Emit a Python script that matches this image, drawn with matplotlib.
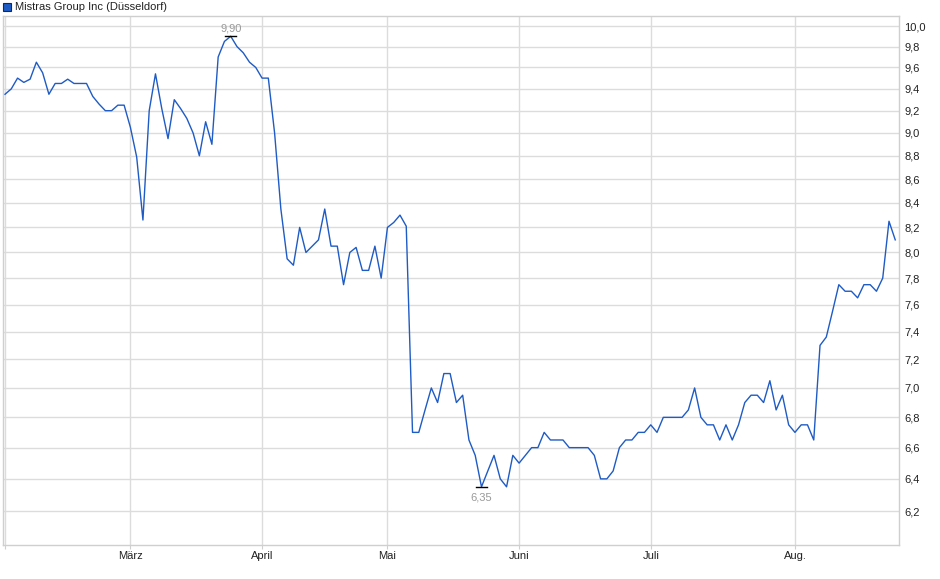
import numpy as np
import pandas as pd
import matplotlib
matplotlib.use("Agg")
import matplotlib.pyplot as plt
from matplotlib.patches import Rectangle

# trading days (Düsseldorf), Feb - Aug
holidays = ["2025-04-18", "2025-04-21", "2025-05-01"]
dates = pd.bdate_range("2025-02-03", "2025-08-25")
dates = dates[~dates.isin(pd.to_datetime(holidays))]

prices = [
    9.35, 9.40, 9.50, 9.46, 9.49, 9.65, 9.55, 9.35, 9.45, 9.45,
    9.49, 9.45, 9.45, 9.45, 9.33, 9.26, 9.20, 9.20, 9.25, 9.25,
    9.05, 8.79, 8.26, 9.20, 9.54, 9.22, 8.95, 9.30, 9.22, 9.13,
    9.00, 8.80, 9.10, 8.90, 9.70, 9.85, 9.90, 9.80, 9.74, 9.65,
    9.60, 9.50, 9.50, 9.00, 8.35, 7.95, 7.90, 8.20, 8.00, 8.05,
    8.10, 8.35, 8.05, 8.05, 7.75, 8.00, 8.04, 7.86, 7.86, 8.05,
    7.80, 8.20, 8.24, 8.30, 8.21, 6.70, 6.70, 6.85, 7.00, 6.90,
    7.10, 7.10, 6.90, 6.95, 6.65, 6.55, 6.35, 6.45, 6.55, 6.40,
    6.35, 6.55, 6.50, 6.55, 6.60, 6.60, 6.70, 6.65, 6.65, 6.65,
    6.60, 6.60, 6.60, 6.60, 6.55, 6.40, 6.40, 6.45, 6.60, 6.65,
    6.65, 6.70, 6.70, 6.75, 6.70, 6.80, 6.80, 6.80, 6.80, 6.85,
    7.00, 6.80, 6.75, 6.75, 6.65, 6.75, 6.65, 6.75, 6.90, 6.95,
    6.95, 6.90, 7.05, 6.85, 6.95, 6.75, 6.70, 6.75, 6.75, 6.65,
    7.30, 7.36, 7.55, 7.75, 7.70, 7.70, 7.65, 7.75, 7.75, 7.70,
    7.80, 8.25, 8.10,
]
month_labels = ["", "März", "April", "Mai", "Juni", "Juli", "Aug."]
yticks = np.round(np.arange(6.2, 10.01, 0.2), 1)

x = np.arange(len(prices))
prices = np.array(prices)
month_pos = [i for i in range(len(dates)) if i == 0 or dates[i].month != dates[i - 1].month]

plt.rcParams["font.family"] = ["Liberation Sans", "DejaVu Sans"]

fig = plt.figure(figsize=(9.4, 5.79), dpi=100)
ax = fig.add_axes([0.0032, 0.0587, 0.9532, 0.9137])

ax.plot(x, prices, color="#1f5bc4", lw=1.0, zorder=3)

ax.set_yscale("log")
ax.set_ylim(5.996, 10.10)
ax.set_xlim(-0.32, 142.6)
ax.set_yticks(yticks)
ax.set_yticklabels([f"{v:.1f}".replace(".", ",") for v in yticks])
ax.yaxis.set_minor_locator(matplotlib.ticker.NullLocator())
ax.yaxis.tick_right()
ax.set_xticks(month_pos)
ax.set_xticklabels(month_labels)

ax.grid(True, color="#dcdcdc", lw=1.0)
ax.set_axisbelow(True)
for s in ax.spines.values():
    s.set_color("#cfcfcf")
    s.set_linewidth(1.0)
ax.tick_params(axis="y", length=0, pad=4, labelsize=8, labelcolor="#222222")
ax.tick_params(axis="x", length=3, pad=1, color="#cfcfcf", labelsize=8, labelcolor="#222222")

# high / low markers
imax = int(np.argmax(prices))
imin = int(np.argmin(prices))
for i, dy, va in [(imax, 2, "bottom"), (imin, -4, "top")]:
    ax.plot([i - 0.85, i + 0.85], [prices[i], prices[i]], color="black", lw=1.0, zorder=4)
    ax.annotate(f"{prices[i]:.2f}".replace(".", ","), (i, prices[i]), xytext=(0, dy),
                textcoords="offset points", ha="center", va=va, fontsize=8, color="#999999")

# legend
fig.add_artist(Rectangle((3 / 940, 1 - 11 / 579), 8 / 940, 8 / 579, transform=fig.transFigure,
                         facecolor="#1f5bc4", edgecolor="#0a2a66", lw=0.8))
fig.text(15 / 940, 1 - 6.5 / 579, "Mistras Group Inc (Düsseldorf)", fontsize=8,
         color="#222222", va="center", ha="left")

fig.savefig("out.png", dpi=100)
